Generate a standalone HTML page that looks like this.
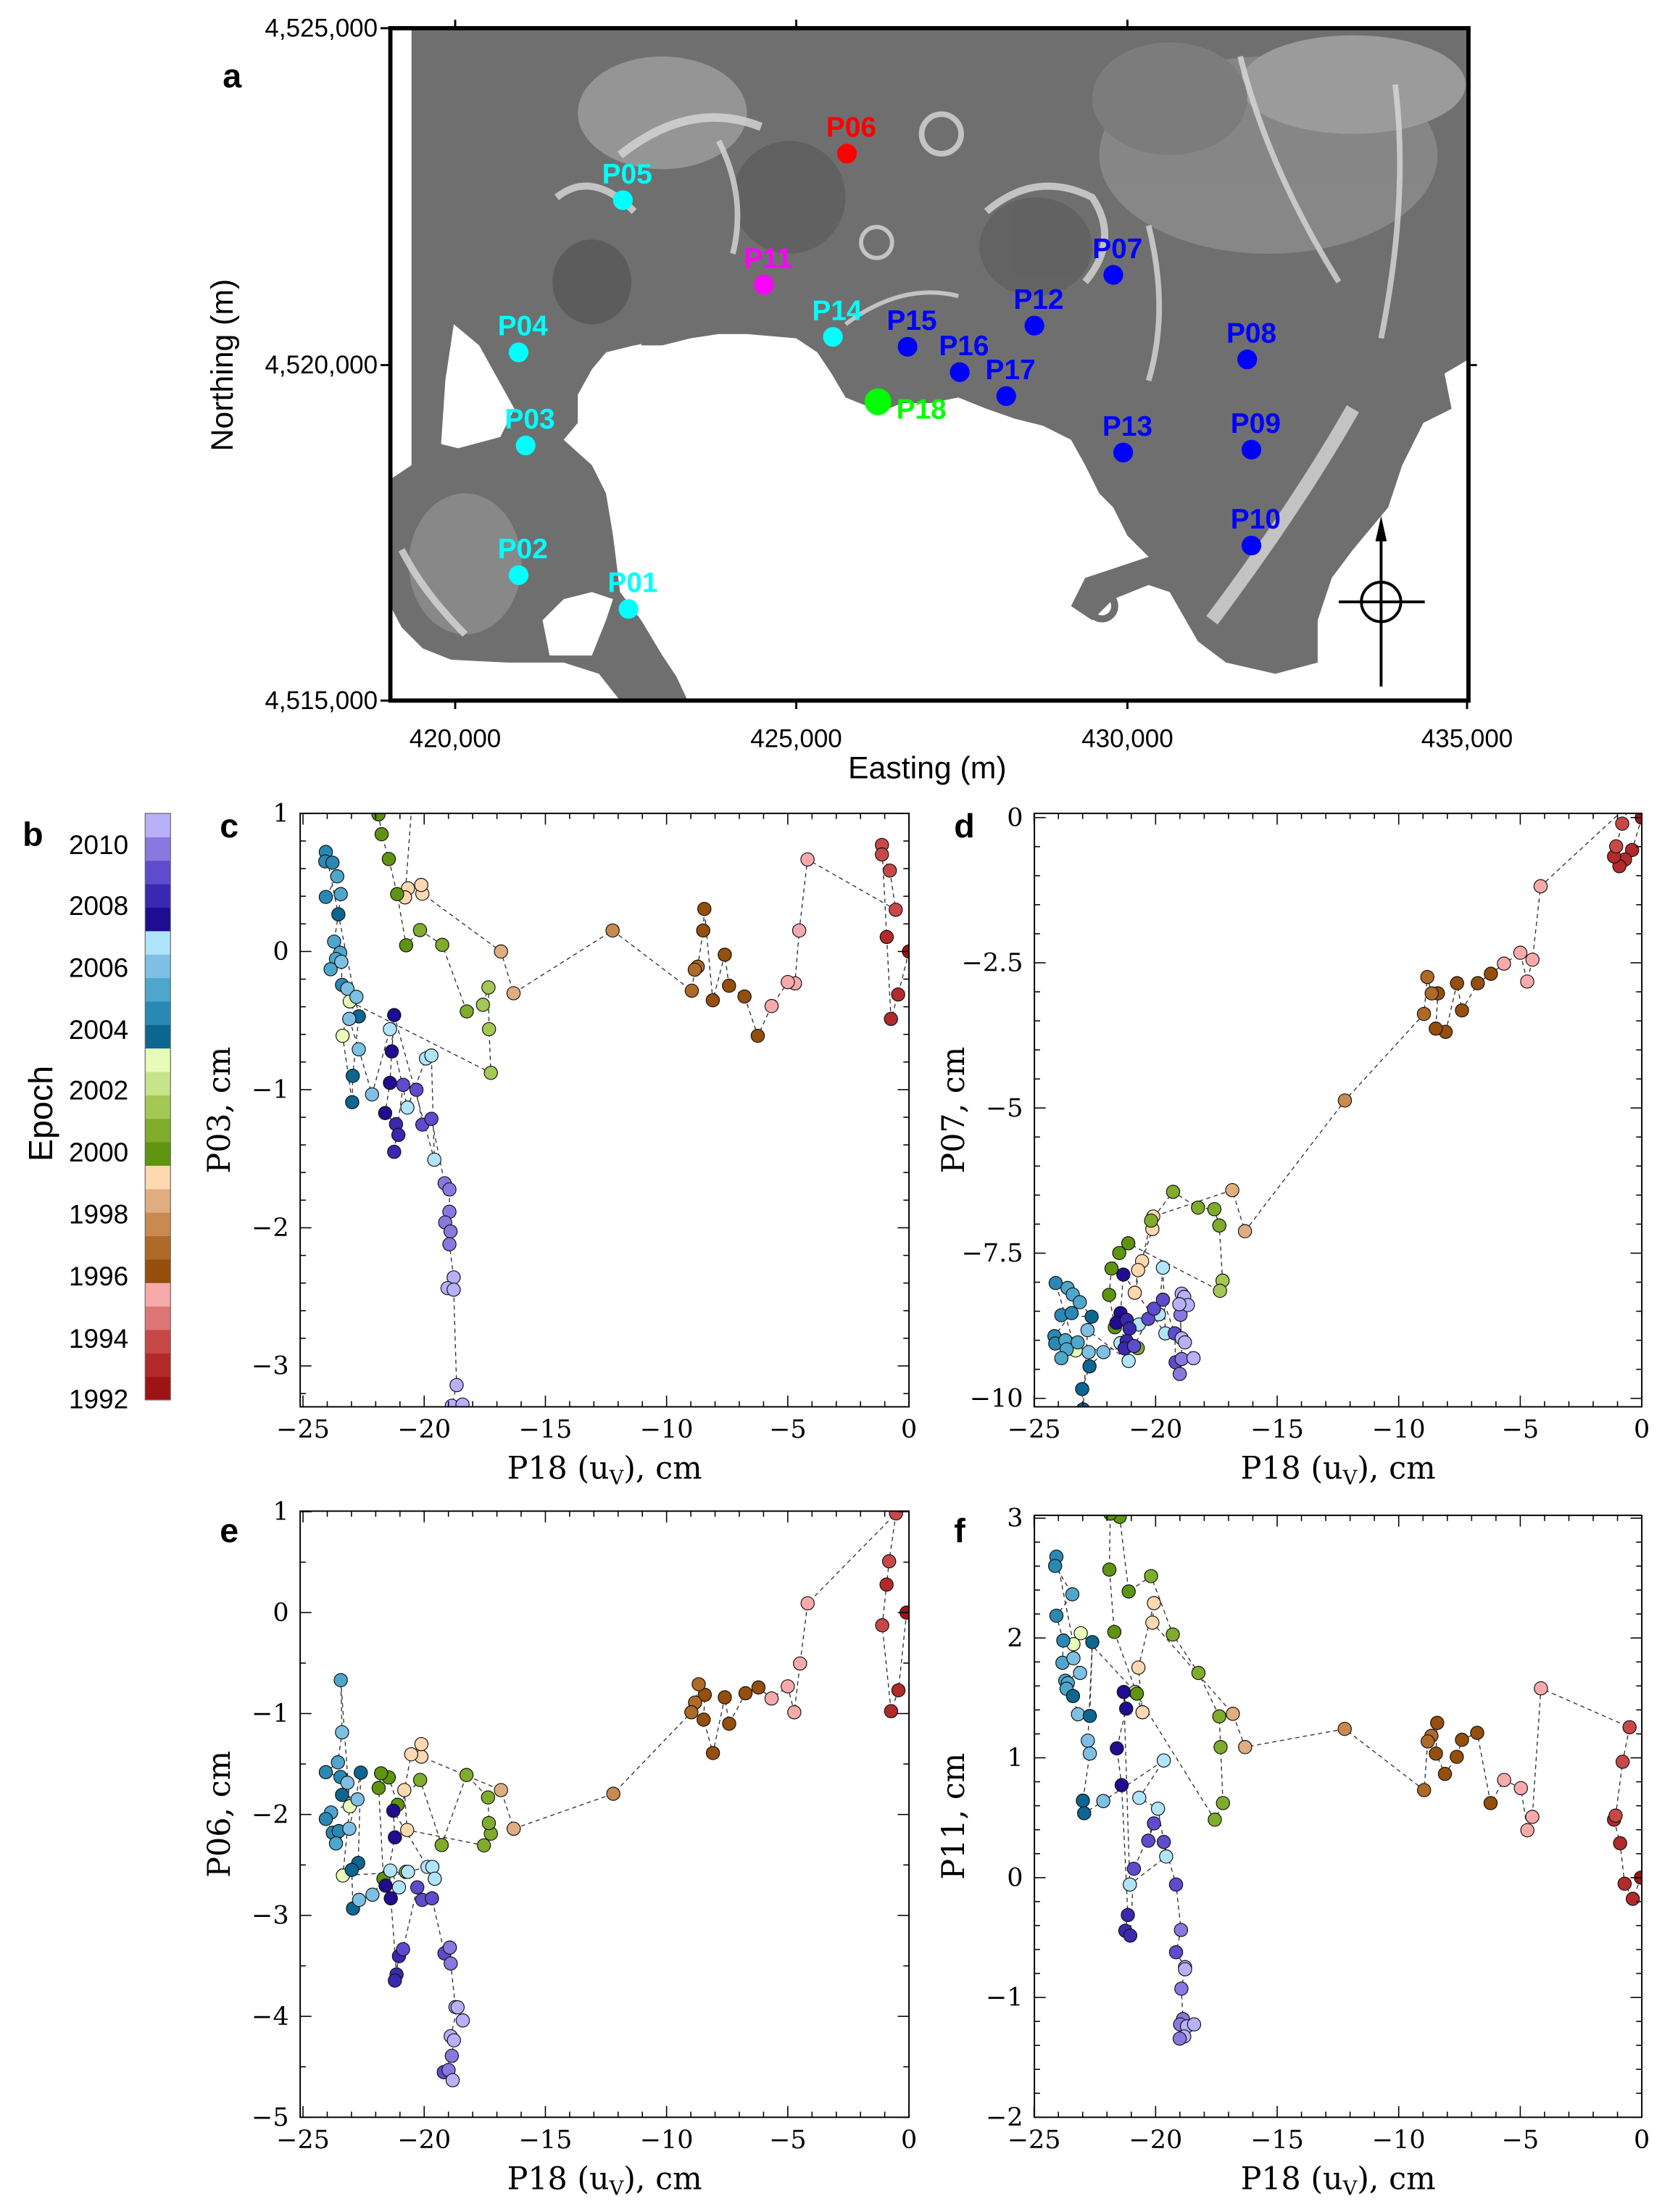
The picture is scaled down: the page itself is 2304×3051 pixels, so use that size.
<!DOCTYPE html>
<html><head><meta charset="utf-8"><style>
html,body{margin:0;padding:0;background:#fff;}
svg{display:block;}
.sans{font-family:"Liberation Sans","DejaVu Sans",sans-serif;}
.serif{font-family:"DejaVu Serif","Liberation Serif",serif;}
</style></head><body>
<svg id="s" width="2304" height="3051" viewBox="0 0 1185 1569.2" xmlns="http://www.w3.org/2000/svg">
<defs>
<clipPath id="mapclip"><rect x="277" y="20" width="765" height="477"/></clipPath>
<clipPath id="cc"><rect x="213" y="577" width="432" height="421"/></clipPath>
<clipPath id="cd"><rect x="734" y="577" width="431" height="421"/></clipPath>
<clipPath id="ce"><rect x="213" y="1072" width="432" height="430"/></clipPath>
<clipPath id="cf"><rect x="734" y="1075" width="431" height="427"/></clipPath>
</defs>
<!-- MAP -->
<g clip-path="url(#mapclip)">
<rect x="277" y="20" width="765" height="477" fill="#fff"/>
<polygon fill="#6f6f6f" points="292,20 1042,20 1042,255 1025,265 1030,290 1010,300 995,330 985,360 960,390 945,410 935,440 935,470 905,478 870,470 850,455 830,420 815,415 790,425 775,440 760,430 770,410 800,400 815,395 800,380 790,360 780,350 770,330 760,312 740,302 720,297 700,290 680,282 660,286 640,286 625,292 600,282 590,265 580,250 565,240 530,237 510,237 490,240 470,245 450,245 430,250 420,262 410,280 410,300 400,312 420,330 430,350 435,380 440,420 455,440 470,465 480,480 488,497 440,497 425,478 400,470 360,470 320,468 300,460 285,445 277,430 277,340 292,330"/>
<g opacity="0.55">
<ellipse cx="470" cy="80" rx="60" ry="40" fill="#b5b5b5"/>
<ellipse cx="900" cy="110" rx="120" ry="70" fill="#9a9a9a"/>
<ellipse cx="960" cy="60" rx="80" ry="35" fill="#c0c0c0"/>
<ellipse cx="330" cy="400" rx="40" ry="50" fill="#9d9d9d"/>
<ellipse cx="560" cy="140" rx="40" ry="40" fill="#555"/>
<ellipse cx="420" cy="200" rx="28" ry="30" fill="#4c4c4c"/>
<ellipse cx="735" cy="175" rx="40" ry="35" fill="#595959"/>
<ellipse cx="830" cy="70" rx="55" ry="40" fill="#888"/>
</g>
<g fill="none" stroke="#d8d8d8" opacity="0.8">
<circle cx="668" cy="95" r="14" stroke-width="4"/>
<circle cx="622" cy="172" r="11" stroke-width="3"/>
<path d="M700,150 Q735,120 775,140 Q795,170 770,200" stroke-width="5"/>
<path d="M395,140 Q420,120 450,150" stroke-width="5"/>
<path d="M440,110 Q490,70 540,90" stroke-width="6"/>
<path d="M510,100 Q530,140 520,180" stroke-width="4"/>
<path d="M960,290 Q920,360 860,440" stroke-width="10"/>
<path d="M880,40 Q900,120 950,200" stroke-width="4"/>
<path d="M990,60 Q1000,140 980,240" stroke-width="4"/>
<path d="M285,390 Q300,420 330,450" stroke-width="5"/>
<path d="M815,160 Q830,220 815,270" stroke-width="4"/>
<path d="M600,230 Q640,200 680,210" stroke-width="3"/>
</g>
<polygon fill="#fff" points="322,230 340,245 365,290 355,310 325,318 313,315 316,270"/>
<polygon fill="#fff" points="385,440 400,425 420,420 435,425 430,440 420,465 390,465"/>
<polygon fill="#fff" points="430,250 455,244 456,254 436,258"/>
<circle cx="782" cy="430" r="9" fill="none" stroke="#6f6f6f" stroke-width="5"/>
</g>
<rect x="277" y="20" width="765" height="477" fill="none" stroke="#000" stroke-width="3"/>
<g stroke="#000" stroke-width="1.5">
<line x1="323" y1="497" x2="323" y2="503"/><line x1="565" y1="497" x2="565" y2="503"/><line x1="800" y1="497" x2="800" y2="503"/><line x1="1041" y1="497" x2="1041" y2="503"/>
<line x1="323" y1="20" x2="323" y2="14"/><line x1="565" y1="20" x2="565" y2="14"/><line x1="800" y1="20" x2="800" y2="14"/>
<line x1="270" y1="20" x2="277" y2="20"/><line x1="270" y1="259" x2="277" y2="259"/><line x1="270" y1="497" x2="277" y2="497"/>
<line x1="1042" y1="259" x2="1048" y2="259"/>
</g>
<g class="sans" font-size="18" fill="#000">
<text x="268" y="26" text-anchor="end">4,525,000</text>
<text x="268" y="265" text-anchor="end">4,520,000</text>
<text x="268" y="503" text-anchor="end">4,515,000</text>
<text x="323" y="530" text-anchor="middle">420,000</text>
<text x="565" y="530" text-anchor="middle">425,000</text>
<text x="800" y="530" text-anchor="middle">430,000</text>
<text x="1041" y="530" text-anchor="middle">435,000</text>
<text x="658" y="552" text-anchor="middle" font-size="22">Easting (m)</text>
<text transform="translate(165,259) rotate(-90)" text-anchor="middle" font-size="22">Northing (m)</text>
<text x="158" y="62" font-size="24" font-weight="bold">a</text>
</g>
<!-- compass -->
<g stroke="#000" stroke-width="2" fill="none">
<circle cx="980" cy="427" r="14"/>
<line x1="950" y1="427" x2="1011" y2="427"/>
<line x1="980" y1="375" x2="980" y2="487"/>
</g>
<polygon points="980,366 976,384 984,384" fill="#000"/>
<!-- stations -->
<g id="st" class="sans" font-size="20" font-weight="bold"></g>
<!-- colorbar -->
<g id="cb"></g>
<g class="sans" font-size="19">
<text x="70" y="606" text-anchor="middle">2010</text>
<text x="70" y="649" text-anchor="middle">2008</text>
<text x="70" y="693" text-anchor="middle">2006</text>
<text x="70" y="737" text-anchor="middle">2004</text>
<text x="70" y="780" text-anchor="middle">2002</text>
<text x="70" y="824" text-anchor="middle">2000</text>
<text x="70" y="868" text-anchor="middle">1998</text>
<text x="70" y="912" text-anchor="middle">1996</text>
<text x="70" y="956" text-anchor="middle">1994</text>
<text x="70" y="999" text-anchor="middle">1992</text>
<text transform="translate(37,790) rotate(-90)" text-anchor="middle" font-size="24">Epoch</text>
<text x="16" y="600" font-size="24" font-weight="bold">b</text>
<text x="156" y="594" font-size="24" font-weight="bold">c</text>
<text x="677" y="594" font-size="24" font-weight="bold">d</text>
<text x="156" y="1094" font-size="24" font-weight="bold">e</text>
<text x="677" y="1094" font-size="24" font-weight="bold">f</text>
</g>
<g id="plots"></g>
</svg>
<script>
var NS="http://www.w3.org/2000/svg";
function el(p,t,a,txt){var e=document.createElementNS(NS,t);for(var k in a)e.setAttribute(k,a[k]);if(txt!=null)e.textContent=txt;p.appendChild(e);return e;}
var pal=["#9e1414","#b22a2a","#c84848","#de7676","#f8aaaa","#954e0c","#ae6a28","#c88a50","#dfad80","#fdd8b0","#5e9410","#80ac2c","#a4c854","#c6e48a","#e6fcb8","#0c6690","#2a88b4","#4ea6cc","#7ec0e4","#b0e4fa","#200c90","#3a28b0","#5e4ccc","#8878e0","#b8b0f8"];
var cb=document.getElementById('cb');var h=416/25;
for(var i=0;i<25;i++){el(cb,'rect',{x:103,y:(993-(i+1)*h).toFixed(2),width:18,height:(h+0.4).toFixed(2),fill:pal[i]});}
el(cb,'rect',{x:103,y:577,width:18,height:416,fill:'none',stroke:'#666','stroke-width':0.6});
var st=document.getElementById('st');
var S=[["P06",601,109,"#ff0000"],["P05",442,142,"#00ffff"],["P11",542,202,"#ff00ff"],["P04",368,250,"#00ffff"],["P14",591,239,"#00ffff"],["P15",644,246,"#0000ff"],["P16",681,264,"#0000ff"],["P17",714,281,"#0000ff"],["P12",734,231,"#0000ff"],["P07",790,195,"#0000ff"],["P08",885,255,"#0000ff"],["P13",797,321,"#0000ff"],["P09",888,319,"#0000ff"],["P10",888,387,"#0000ff"],["P03",373,316,"#00ffff"],["P02",368,408,"#00ffff"],["P01",446,432,"#00ffff"]];
S.forEach(function(s){el(st,'circle',{cx:s[1],cy:s[2],r:7,fill:s[3]});el(st,'text',{x:s[1]+3,y:s[2]-12,'text-anchor':'middle',fill:s[3]},s[0]);});
el(st,'circle',{cx:623,cy:285,r:9.5,fill:'#00ff00'});el(st,'text',{x:636,y:297,fill:'#00ff00'},'P18');

var plots=document.getElementById('plots');
function panel(cfg){
 var g=el(plots,'g',{});
 var L=cfg.L,R=cfg.R,T=cfg.T,B=cfg.B;
 function X(v){return cfg.dx0+v*cfg.dxs;} function Y(v){return cfg.dy0-v*cfg.dys;}
 var gc=el(g,'g',{'clip-path':'url(#'+cfg.clip+')'});
 var P=cfg.pts.map(function(p){var vx=(p[0]-cfg.zx0)/cfg.zxs,vy=(cfg.zy0-p[1])/cfg.zys;return [X(vx),Y(vy),p[2]];});
 el(gc,'polyline',{points:P.map(function(p){return p[0].toFixed(1)+','+p[1].toFixed(1);}).join(' '),fill:'none',stroke:'#333','stroke-width':0.7,'stroke-dasharray':'3,2.5'});
 P.forEach(function(p){el(gc,'circle',{cx:p[0].toFixed(1),cy:p[1].toFixed(1),r:4.7,fill:pal[p[2]],stroke:'#111','stroke-width':0.6});});
 el(g,'rect',{x:L,y:T,width:R-L,height:B-T,fill:'none',stroke:'#000','stroke-width':1});
 var tk=el(g,'g',{stroke:'#000','stroke-width':0.8});
 for(var v=-25;v<=0;v++){var x=X(v);var mj=(v%5==0);var l=mj?8:4;
  el(tk,'line',{x1:x,y1:B,x2:x,y2:B-l});el(tk,'line',{x1:x,y1:T,x2:x,y2:T+l});
  if(mj) el(g,'text',{x:x,y:B+22,'text-anchor':'middle','class':'serif','font-size':18},(v<0?'\u2212':'')+Math.abs(v));}
 var n=Math.round((cfg.ymax-cfg.ymin)/cfg.ymn);
 for(var i=0;i<=n+1;i++){var v=cfg.ymin+i*cfg.ymn;var y=Y(v);if(y<T-1||y>B+1)continue;
  var r=v/cfg.ymj;var mj=Math.abs(r-Math.round(r))<1e-6;var l=mj?8:4;
  el(tk,'line',{x1:L,y1:y,x2:L+l,y2:y});el(tk,'line',{x1:R,y1:y,x2:R-l,y2:y});
  if(mj){var s=(Math.abs(v)<1e-9)?'0':((v<0?'\u2212':'')+String(+Math.abs(v).toFixed(1)));el(g,'text',{x:L-8,y:y+6,'text-anchor':'end','class':'serif','font-size':18},s);}}
 var xl=el(g,'text',{x:(L+R)/2,y:B+51,'text-anchor':'middle','class':'serif','font-size':22});
 xl.appendChild(document.createTextNode('P18 (u'));
 el(xl,'tspan',{'font-size':14,dy:4},'V');
 el(xl,'tspan',{dy:-4},'), cm');
 el(g,'text',{transform:'translate('+(L-50)+','+((T+B)/2)+') rotate(-90)','text-anchor':'middle','class':'serif','font-size':22},cfg.yl);
}
var C=[[1515,368,0],[1497,472,1],[1485,531,1],[1478,333,1],[1470,110,2],[1470,133,2],[1483,172,2],[1493,267,2],[1346,145,4],[1332,317,4],[1325,445,4],[1313,442,4],[1286,500,4],[1263,572,5],[1241,477,5],[1215,451,5],[1208,376,5],[1188,486,5],[1174,265,5],[1172,317,5],[1163,405,6],[1158,412,6],[1153,463,6],[1021,317,7],[856,469,8],[835,368,8],[704,228,9],[702,207,9],[680,215,9],[675,237,9],[686,18,9],[631,36,10],[636,84,10],[648,144,10],[662,229,10],[677,353,10],[700,316,11],[737,352,11],[778,513,11],[805,497,12],[814,455,12],[815,556,12],[818,662,12],[583,489,14],[571,572,14],[587,733,15],[588,669,15],[598,525,15],[543,127,16],[542,150,16],[554,153,16],[562,186,17],[543,236,16],[568,229,17],[564,278,15],[557,344,17],[567,371,17],[560,386,17],[551,411,17],[569,393,18],[570,449,16],[579,458,18],[594,478,18],[582,531,18],[598,605,18],[620,714,18],[650,556,19],[679,746,19],[710,627,19],[719,620,19],[724,872,19],[657,522,20],[653,610,20],[650,686,20],[642,759,20],[660,786,21],[664,812,21],[657,853,21],[672,691,22],[694,703,22],[704,787,22],[719,773,22],[741,929,23],[749,944,23],[749,998,23],[742,1024,23],[751,1046,23],[749,1077,23],[756,1157,24],[746,1183,24],[756,1187,24],[761,1418,24],[753,1468,24],[771,1465,24]];
var D=[[1548,47,0],[1524,127,1],[1507,150,1],[1493,167,1],[1480,143,1],[1485,118,2],[1500,62,2],[1520,12,1],[1300,216,4],[1280,397,4],[1267,451,4],[1250,380,4],[1210,407,4],[1178,432,5],[1146,455,5],[1107,522,5],[1095,455,5],[1067,575,5],[1043,567,5],[1048,480,5],[1033,480,6],[1022,440,6],[1014,531,6],[820,744,7],[575,1066,8],[544,965,8],[350,1030,9],[348,1061,9],[323,1140,9],[313,1162,9],[305,1218,9],[345,1040,11],[399,969,11],[460,1008,11],[500,1012,11],[512,1052,11],[520,1188,12],[514,1213,12],[289,1096,10],[267,1120,10],[248,1158,10],[242,1223,10],[256,1303,10],[312,1354,11],[160,1360,14],[111,1194,16],[140,1206,17],[153,1222,17],[170,1241,17],[199,1277,15],[125,1273,16],[150,1268,16],[108,1325,16],[110,1343,16],[135,1335,17],[138,1357,17],[125,1379,17],[165,1340,17],[192,1364,18],[228,1364,18],[194,1399,15],[176,1455,15],[178,1505,15],[189,1310,18],[290,1386,19],[270,1342,19],[315,1296,19],[364,1271,19],[374,1156,19],[380,1318,19],[277,1173,20],[270,1268,20],[260,1292,20],[285,1285,21],[292,1306,21],[285,1337,21],[280,1355,21],[303,1349,22],[338,1282,22],[352,1257,22],[374,1235,22],[403,1318,22],[405,1389,22],[415,1418,23],[420,1381,23],[417,1272,23],[420,1220,24],[426,1228,24],[435,1248,24],[414,1246,24],[420,1330,24],[428,1340,24],[449,1379,24]];
var E=[[1516,296,0],[1496,487,1],[1478,538,1],[1456,327,2],[1467,227,1],[1473,170,2],[1490,52,2],[1273,273,4],[1254,421,4],[1240,541,4],[1224,477,4],[1184,507,4],[1152,480,5],[1120,494,5],[1080,569,5],[1069,504,5],[1040,641,5],[1017,559,5],[1020,498,5],[1005,472,6],[996,517,6],[987,541,6],[795,741,7],[550,827,8],[519,732,8],[323,650,9],[323,619,9],[298,644,9],[281,732,9],[288,830,9],[477,868,11],[494,839,11],[489,813,11],[487,750,11],[434,695,11],[373,867,11],[320,707,11],[265,768,10],[243,701,10],[224,691,10],[218,727,10],[230,950,10],[285,933,11],[130,942,14],[147,772,14],[125,462,17],[128,590,18],[118,664,17],[88,688,16],[124,700,16],[141,714,18],[128,744,15],[166,755,18],[101,787,17],[88,803,16],[105,837,16],[120,833,16],[113,863,17],[146,827,18],[174,689,15],[168,911,15],[152,928,15],[155,1023,15],[170,1002,18],[203,989,18],[247,930,19],[268,971,19],[290,933,19],[338,921,19],[350,921,19],[356,950,19],[254,783,20],[258,848,20],[235,967,20],[248,998,20],[262,1185,21],[258,1200,21],[268,1140,21],[278,1123,22],[313,971,22],[325,1002,22],[349,998,22],[380,1133,22],[393,1119,23],[395,1158,23],[407,1265,24],[425,1298,24],[412,1266,24],[395,1337,24],[403,1347,24],[398,1385,23],[378,1425,22],[390,1420,23],[400,1445,24]];
var F=[[1506,946,0],[1486,998,1],[1466,961,1],[1455,861,1],[1440,803,1],[1444,793,2],[1461,660,2],[1478,575,2],[1261,479,4],[1240,796,4],[1228,829,4],[1212,725,4],[1171,705,4],[1138,762,5],[1105,589,5],[1068,606,5],[1055,648,5],[1026,690,5],[1004,640,5],[1007,564,5],[993,596,6],[984,610,6],[975,730,6],[781,579,7],[537,624,8],[507,542,8],[310,317,9],[314,269,9],[276,428,9],[286,538,9],[268,488,9],[463,803,11],[483,762,11],[477,624,11],[474,548,11],[423,441,11],[360,346,11],[307,202,11],[252,240,10],[230,56,10],[207,48,10],[205,186,10],[217,340,10],[272,492,10],[135,343,14],[117,370,14],[75,154,16],[72,177,16],[114,247,17],[75,300,16],[92,361,16],[90,416,17],[117,405,18],[133,441,18],[97,460,17],[103,466,17],[100,480,17],[116,498,15],[128,543,18],[157,547,15],[163,365,15],[152,608,18],[157,640,18],[140,756,15],[143,787,15],[190,757,18],[338,657,19],[278,749,19],[324,776,19],[344,894,19],[255,963,19],[240,488,20],[246,529,20],[223,627,20],[235,718,20],[250,1038,21],[244,1077,21],[256,1089,21],[265,924,22],[314,812,22],[300,855,22],[338,858,22],[368,963,22],[380,1075,23],[368,1130,22],[390,1167,24],[390,1172,24],[381,1220,23],[385,1295,23],[378,1308,23],[395,1313,24],[412,1308,24],[388,1338,24],[377,1343,23]];
panel({L:213,R:645,T:577,B:998,clip:'cc',dx0:645,dxs:17.2,dy0:675,dys:98,zx0:1515,zxs:40.4,zy0:368,zys:334.5,ymin:-3.4,ymax:1.0,ymn:0.2,ymj:1,yl:'P03, cm',pts:C});
panel({L:734,R:1165,T:577,B:998,clip:'cd',dx0:1165,dxs:17.25,dy0:580,dys:41.2,zx0:1548,zxs:59.6,zy0:47,zys:143.1,ymin:-10,ymax:0,ymn:0.5,ymj:2.5,yl:'P07, cm',pts:D});
panel({L:213,R:645,T:1072,B:1502,clip:'ce',dx0:645,dxs:17.2,dy0:1144,dys:71.6,zx0:1522,zxs:59.6,zy0:296,zys:248,ymin:-5,ymax:1,ymn:0.5,ymj:1,yl:'P06, cm',pts:E});
panel({L:734,R:1165,T:1075,B:1502,clip:'cf',dx0:1165,dxs:17.25,dy0:1332,dys:85,zx0:1508,zxs:59.5,zy0:946,zys:295.6,ymin:-2,ymax:3,ymn:0.2,ymj:1,yl:'P11, cm',pts:F});
</script>
</body></html>
